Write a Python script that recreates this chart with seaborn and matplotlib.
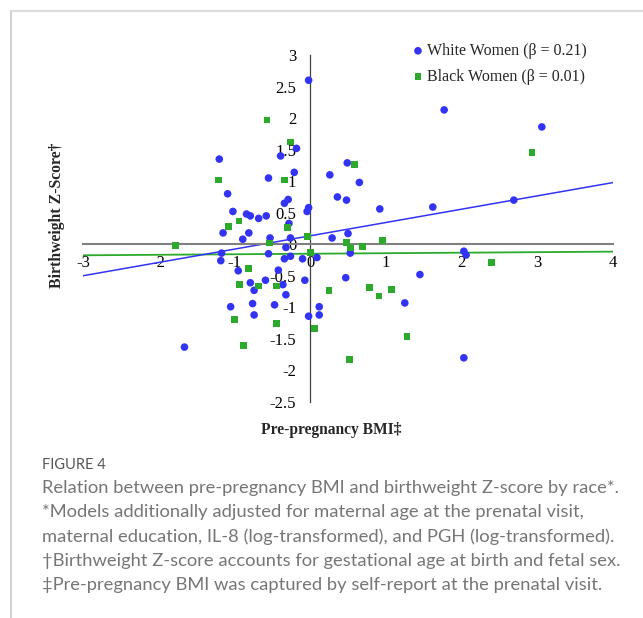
import matplotlib
matplotlib.use("Agg")
import matplotlib.pyplot as plt
import pandas as pd
import seaborn as sns
from matplotlib.lines import Line2D

# Data
white_bmi = [-0.02, 1.77, 3.06, -0.18, -0.39, -1.20, 0.49, -0.21, 0.26, -0.55,
             0.65, -1.09, 0.36, -0.29, 0.48, 2.69, -0.34, 1.62, -0.02, 0.92,
             -1.02, -0.04, -0.84, -0.79, -0.58, -0.68, -0.28, -1.15, -0.81, 0.50,
             -0.53, -0.26, 0.29, -0.89, -0.32, 2.03, -1.17, 0.53, -0.55, 2.06,
             -0.26, 0.09, -0.34, -0.10, -1.18, -0.95, -0.42, 1.45, 0.47, -0.59,
             -0.07, -0.79, -0.36, -0.74, -0.32, 1.25, -0.76, -0.47, -1.05, 0.12,
             -0.74, 0.12, -0.02, -1.66, 2.03]
white_z = [2.60, 2.13, 1.86, 1.52, 1.40, 1.35, 1.29, 1.14, 1.10, 1.05,
           0.98, 0.80, 0.75, 0.71, 0.70, 0.70, 0.65, 0.59, 0.58, 0.56,
           0.52, 0.52, 0.48, 0.45, 0.45, 0.41, 0.33, 0.18, 0.18, 0.17,
           0.10, 0.10, 0.10, 0.08, -0.05, -0.11, -0.14, -0.14, -0.15, -0.17,
           -0.19, -0.21, -0.23, -0.23, -0.26, -0.42, -0.41, -0.48, -0.53, -0.57,
           -0.57, -0.61, -0.64, -0.73, -0.80, -0.93, -0.94, -0.96, -0.99, -0.99,
           -1.12, -1.12, -1.14, -1.63, -1.80]

black_bmi = [-0.57, -0.26, 2.93, 0.59, -1.21, -0.34, -0.94, -1.08, -0.30, -0.04,
             0.96, 0.48, -0.54, -1.78, 0.69, 0.53, 0.00, 2.39, -0.81, -0.93,
             -0.68, -0.44, 0.78, 1.07, 0.25, 0.91, -1.00, -0.44, 0.06, 1.28,
             -0.88, 0.52]
black_z = [1.97, 1.62, 1.45, 1.27, 1.02, 1.02, 0.37, 0.28, 0.26, 0.12,
           0.06, 0.03, 0.02, -0.02, -0.04, -0.06, -0.13, -0.29, -0.39, -0.64,
           -0.66, -0.66, -0.68, -0.72, -0.73, -0.82, -1.19, -1.25, -1.33, -1.46,
           -1.61, -1.83]

# fitted lines (intercept, slope) as drawn in the figure
white_fit = [0.134, 0.211]
black_fit = [-0.15, 0.0083]
fit_x = [-3, 4]

x_ticks = [-3, -2, -1, 0, 1, 2, 3, 4]
y_ticks = [-2.5, -2, -1.5, -1, -0.5, 0, 0.5, 1, 1.5, 2, 2.5, 3]

blue = "#3333f5"
green = "#2baa2b"

sns.set_style("white")
plt.rcParams["font.family"] = ["Liberation Serif", "DejaVu Serif"]
plt.rcParams["axes.unicode_minus"] = False

fig = plt.figure(figsize=(6.43, 6.18), dpi=100)
ax = fig.add_axes([83 / 643, 1 - 402 / 618, 530 / 643, 347 / 618])

df_w = pd.DataFrame({"bmi": white_bmi, "z": white_z})
df_b = pd.DataFrame({"bmi": black_bmi, "z": black_z})
fit_w = pd.DataFrame({"bmi": fit_x, "z": [white_fit[0] + white_fit[1] * v for v in fit_x]})
fit_b = pd.DataFrame({"bmi": fit_x, "z": [black_fit[0] + black_fit[1] * v for v in fit_x]})

sns.lineplot(data=fit_b, x="bmi", y="z", color=green, lw=1.3, ax=ax, zorder=2)
sns.lineplot(data=fit_w, x="bmi", y="z", color=blue, lw=1.1, ax=ax, zorder=2)
sns.scatterplot(data=df_w, x="bmi", y="z", color=blue, marker="o", s=30,
                edgecolor="none", ax=ax, zorder=3, label="White Women (\u03b2 = 0.21)")
sns.scatterplot(data=df_b, x="bmi", y="z", color=green, marker="s", s=24,
                edgecolor="none", ax=ax, zorder=3, label="Black Women (\u03b2 = 0.01)")

ax.set_xlim(-3, 4)
ax.set_ylim(-2.5, 3)
ax.set_xticks(x_ticks)
ax.set_xticklabels(["{:g}".format(v) for v in x_ticks])
ax.set_yticks(y_ticks)
ax.set_yticklabels(["{:g}".format(v) for v in y_ticks])
ax.set_xlabel("")
ax.set_ylabel("")

# axes cross at the origin
ax.spines["left"].set_position("zero")
ax.spines["bottom"].set_position("zero")
ax.spines["right"].set_visible(False)
ax.spines["top"].set_visible(False)
ax.spines["left"].set_color("#404040")
ax.spines["left"].set_linewidth(0.9)
ax.spines["bottom"].set_color("#808080")
ax.spines["bottom"].set_linewidth(1.5)
ax.tick_params(axis="both", length=0, labelsize=12, colors="black")
ax.tick_params(axis="x", pad=8)
ax.tick_params(axis="y", pad=10)
ax.patch.set_alpha(0)

ax.legend(loc="upper left", bbox_to_anchor=(402 / 643, 1 - 35 / 618),
          bbox_transform=fig.transFigure, frameon=False, fontsize=11.5,
          handletextpad=0.05, handlelength=1.0, labelspacing=0.6, borderpad=0)

fig.text(57 / 643, 1 - 215 / 618, "Birthweight Z-Score\u2020", rotation=90,
         ha="center", va="center", fontsize=11.3, fontweight="bold")
fig.text(331 / 643, 1 - 430 / 618, "Pre-pregnancy BMI\u2021",
         ha="center", va="center", fontsize=11.2, fontweight="bold")

# panel border lines
fig.add_artist(Line2D([11 / 643, 11 / 643], [0, 1 - 11 / 618], transform=fig.transFigure,
                      color="#c8c8c8", lw=1.2))
fig.add_artist(Line2D([11 / 643, 1], [1 - 11 / 618, 1 - 11 / 618], transform=fig.transFigure,
                      color="#dcdcdc", lw=1.6))

# caption
caption = [
    "Relation between pre-pregnancy BMI and birthweight Z-score by race*.",
    "*Models additionally adjusted for maternal age at the prenatal visit,",
    "maternal education, IL-8 (log-transformed), and PGH (log-transformed).",
    "\u2020Birthweight Z-score accounts for gestational age at birth and fetal sex.",
    "\u2021Pre-pregnancy BMI was captured by self-report at the prenatal visit.",
]
fig.text(42 / 643, 1 - 465 / 618, "FIGURE 4", ha="left", va="center",
         fontsize=10.5, color="#555555", family=["Lato", "DejaVu Sans"])
for i, line in enumerate(caption):
    fig.text(42 / 643, 1 - (488 + 24.3 * i) / 618, line, ha="left", va="center",
             fontsize=13.2, color="#767676", family=["Lato", "DejaVu Sans"])

fig.savefig("out.png", dpi=100)
